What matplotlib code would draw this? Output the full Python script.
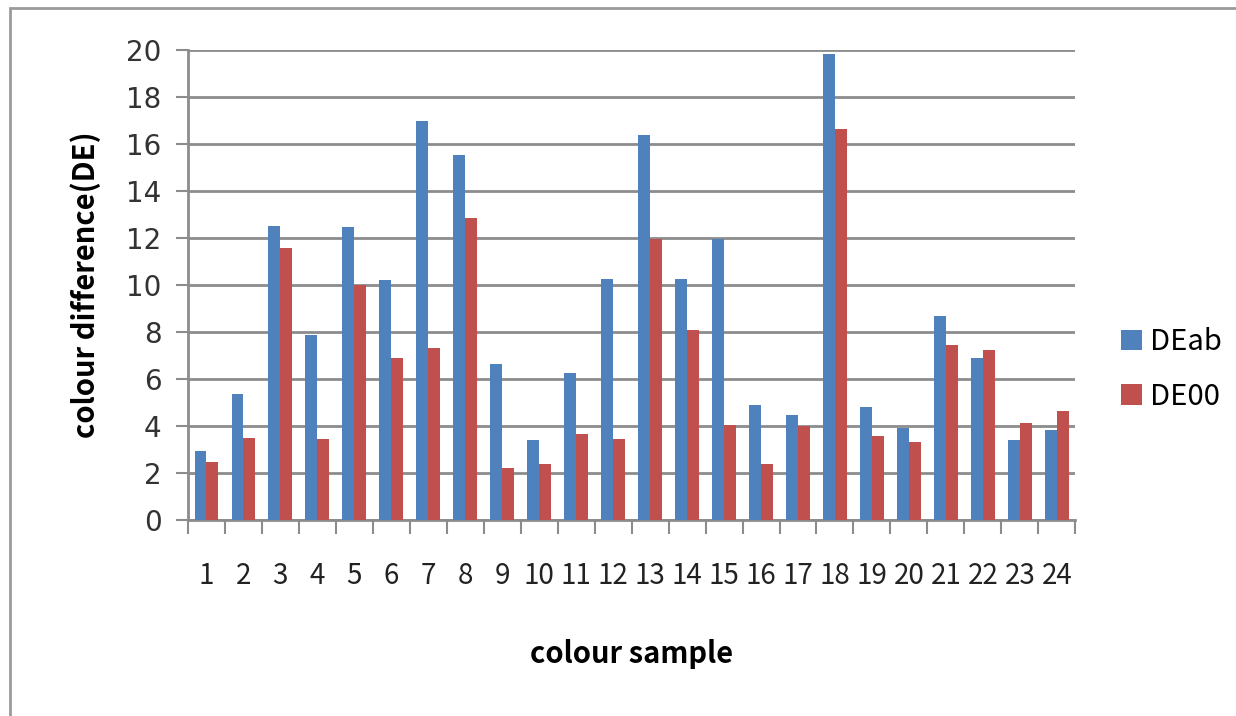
import numpy as np
import matplotlib.pyplot as plt
from matplotlib.patches import Rectangle

# dados
amostras = [str(i) for i in range(1, 25)]
de_ab = [2.95, 5.35, 12.5, 7.85, 12.45, 10.2, 17.0, 15.55, 6.65, 3.4, 6.25, 10.27,
         16.37, 10.26, 11.97, 4.87, 4.45, 19.85, 4.8, 3.93, 8.67, 6.88, 3.4, 3.83]
de_00 = [2.45, 3.5, 11.56, 3.42, 9.98, 6.9, 7.3, 12.84, 2.22, 2.36, 3.67, 3.42,
         11.97, 8.08, 4.05, 2.36, 3.99, 16.62, 3.58, 3.33, 7.46, 7.22, 4.12, 4.62]

plt.rcParams['font.family'] = ['Noto Sans CJK KR', 'DejaVu Sans']

fig = plt.figure(figsize=(12.36, 7.16), dpi=100)
ax = fig.add_axes([0.152, 0.274, 0.718, 0.656])

# borda externa do grafico
fig.patches.append(Rectangle((10 / 1236, -0.01), 1.02, 1 - 8 / 716 + 0.01,
                             transform=fig.transFigure, fill=False,
                             edgecolor='#9a9a9a', linewidth=2))

x = np.arange(len(amostras))
largura = 0.32
ax.bar(x - largura / 2, de_ab, largura, color='#4F81BD', label='DEab', zorder=3)
ax.bar(x + largura / 2, de_00, largura, color='#C0504D', label='DE00', zorder=3)

ax.set_xlim(-0.5, len(amostras) - 0.5)
ax.set_ylim(0, 20)
ax.set_yticks(range(0, 21, 2))
ax.yaxis.grid(True, color='#8c8c8c', linewidth=2, zorder=0)

# ticks nas fronteiras das categorias, rotulos no centro
ax.set_xticks(np.arange(-0.5, len(amostras), 1))
ax.set_xticklabels([])
ax.tick_params(axis='x', which='major', length=10, width=1.5, color='#8c8c8c', direction='out')
ax.set_xticks(x, minor=True)
ax.set_xticklabels(amostras, minor=True, fontsize=20)
ax.tick_params(axis='x', which='minor', length=0, pad=30)
for lbl in ax.get_xticklabels(minor=True):
    lbl.set_color('#222222')

ax.tick_params(axis='y', length=9, width=1.5, color='#8c8c8c', labelsize=20, pad=10)
for lbl in ax.get_yticklabels():
    lbl.set_family('DejaVu Sans')
    lbl.set_color('#333333')

for lado in ['top', 'right']:
    ax.spines[lado].set_visible(False)
for lado in ['left', 'bottom']:
    ax.spines[lado].set_color('#8c8c8c')
    ax.spines[lado].set_linewidth(2)

ax.set_ylabel('colour difference(DE)', fontsize=21, fontweight='bold', labelpad=18)
ax.set_xlabel('colour sample', fontsize=21, fontweight='bold', labelpad=34)

ax.legend(loc='center left', bbox_to_anchor=(1.022, 0.32), frameon=False, fontsize=21,
          handlelength=0.7, handleheight=0.7, handletextpad=0.3, labelspacing=0.85)

fig.savefig('out.png', dpi=100)
